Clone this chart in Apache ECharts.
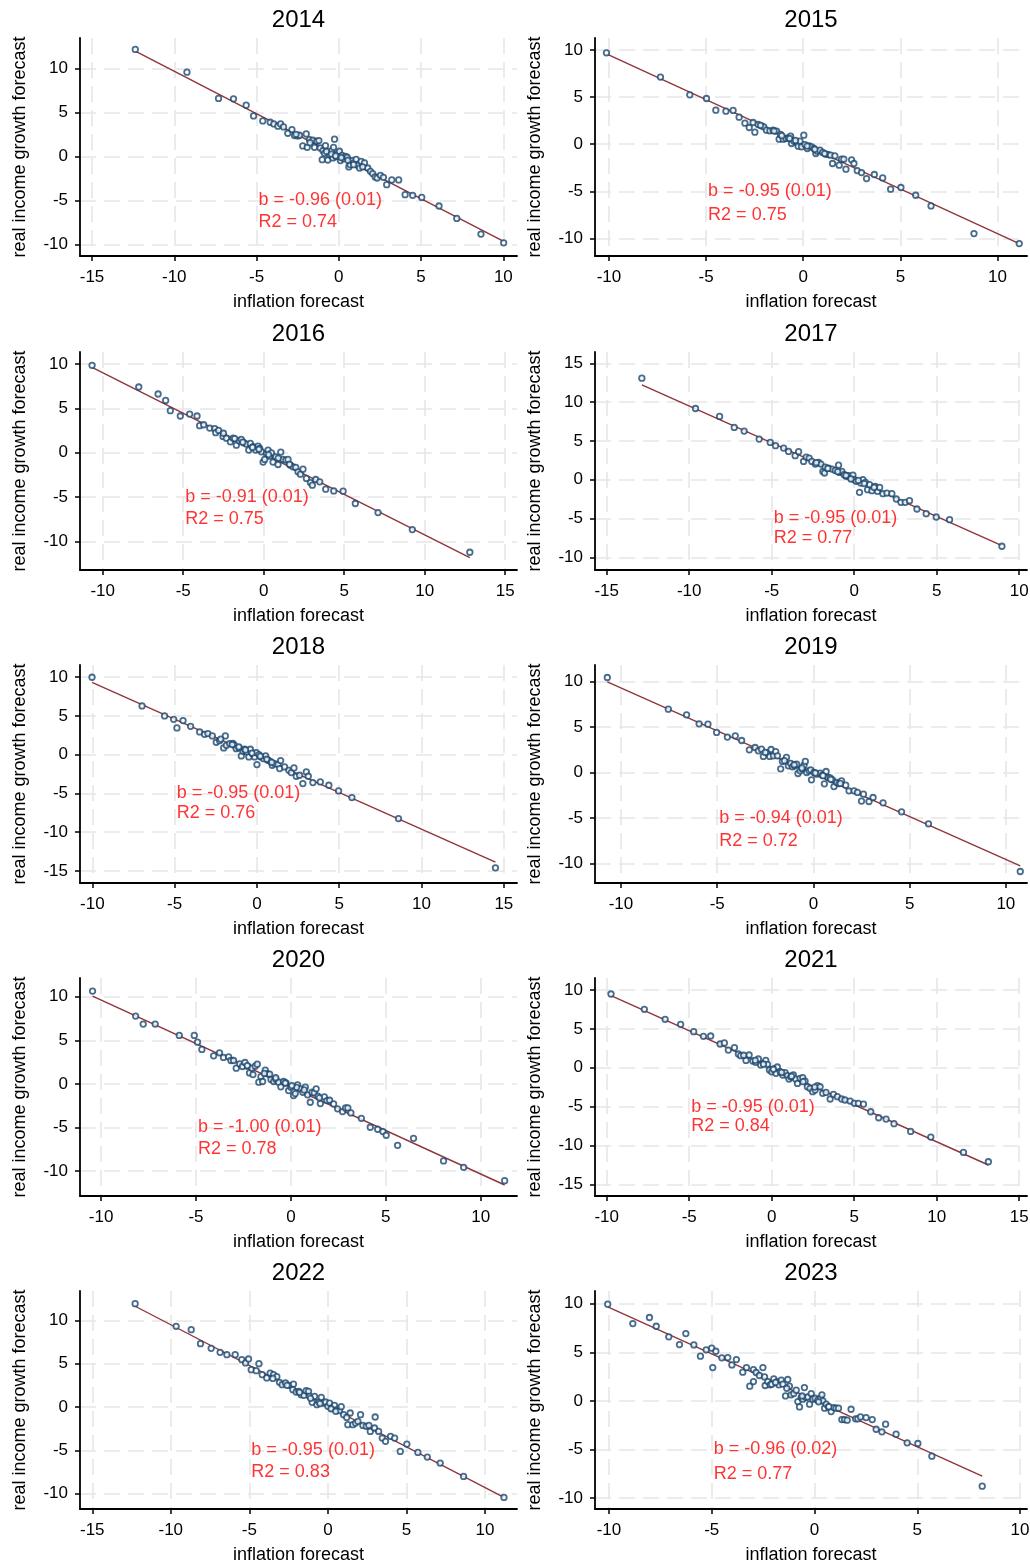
<!DOCTYPE html>
<html>
<head>
<meta charset="utf-8">
<script src="https://cdn.jsdelivr.net/npm/echarts@6/dist/echarts.min.js"></script>
<style>
  html, body { margin: 0; padding: 0; background: #fff; }
  #main { width: 1030px; height: 1566px; }
</style>
</head>
<body>
<div id="main"></div>
<script>
// years shown, one panel each
var years = [2014, 2015, 2016, 2017, 2018, 2019, 2020, 2021, 2022, 2023];

// [inflation forecast, real income growth forecast]
var p2014 = [[-12.37,12.14],[-9.23,9.56],[-7.31,6.57],[-6.40,6.53],[-5.63,5.81],[-5.18,4.59],[-4.62,4.02],[-4.17,3.87],[-3.95,3.68],[-3.70,3.42],[-3.54,3.68],[-3.36,3.34],[-3.10,2.62],[-2.85,3.04],[-2.69,2.35],[-2.49,2.31],[-2.39,2.39],[-2.19,1.18],[-1.98,2.54],[-1.92,1.02],[-1.78,1.90],[-1.58,1.82],[-1.48,1.02],[-1.34,1.71],[-1.21,1.78],[-1.13,0.95],[-0.97,0.65],[-0.87,0.34],[-0.81,1.21],[-1.01,-0.38],[-0.67,-0.42],[-0.57,0.19],[-0.43,0.65],[-0.32,1.02],[-0.26,1.94],[-0.36,-0.19],[-0.16,-0.04],[-0.06,0.34],[0.04,0.57],[0.10,-0.49],[0.20,0.11],[0.30,-0.27],[0.40,0.00],[0.51,-0.11],[0.61,-1.21],[0.69,-0.95],[0.81,-0.49],[0.91,-0.76],[1.05,-0.34],[1.15,-1.02],[1.26,-1.33],[1.36,-0.57],[1.56,-0.76],[1.76,-1.33],[1.92,-1.71],[2.06,-1.97],[2.21,-2.35],[2.33,-2.47],[2.53,-2.16],[2.71,-2.39],[2.91,-3.23],[3.22,-2.69],[3.64,-2.69],[4.03,-4.36],[4.49,-4.44],[5.04,-4.67],[6.09,-5.65],[7.17,-7.06],[8.64,-8.84],[10.02,-9.83],[-0.75,0.55],[-0.45,0.25],[0.15,-0.15],[0.55,-0.45],[-1.75,1.55],[-2.6,2.5],[0.9,-0.95],[1.45,-1.2],[-0.2,0.05]];
var p2015 = [[-10.13,9.70],[-7.35,7.12],[-5.84,5.24],[-4.98,4.85],[-4.50,3.61],[-3.98,3.50],[-3.61,3.58],[-3.30,2.87],[-3.00,2.23],[-2.78,1.77],[-2.58,2.30],[-2.49,1.27],[-2.32,2.09],[-2.15,1.95],[-2.03,1.84],[-1.89,1.49],[-1.72,1.42],[-1.55,1.49],[-1.37,1.38],[-1.24,0.53],[-1.17,1.03],[-1.03,0.53],[-0.89,0.60],[-0.77,0.67],[-0.65,0.85],[-0.60,0.07],[-0.48,0.32],[-0.34,0.18],[-0.26,-0.21],[-0.17,0.32],[-0.09,-0.28],[0.03,0.96],[0.09,-0.04],[0.21,-0.46],[0.31,-0.18],[0.43,-0.28],[0.55,-0.46],[0.65,-0.99],[0.72,-0.74],[0.86,-0.64],[1.00,-0.88],[1.17,-1.06],[1.29,-1.10],[1.41,-1.17],[1.51,-2.05],[1.63,-1.24],[1.85,-2.23],[1.97,-1.59],[2.09,-1.59],[2.20,-2.65],[2.49,-1.66],[2.61,-2.05],[2.78,-2.80],[3.00,-3.01],[3.26,-3.65],[3.66,-3.22],[4.09,-3.58],[4.50,-4.78],[5.03,-4.60],[5.79,-5.42],[6.58,-6.55],[8.79,-9.49],[11.12,-10.55],[-1.5,1.4],[-1.1,0.9],[-0.7,0.6],[0.2,-0.2],[0.6,-0.55],[1.1,-1.0],[-2.2,2.0],[-0.4,0.4]];
var p2016 = [[-10.66,9.85],[-7.76,7.41],[-6.56,6.62],[-6.09,5.90],[-5.80,4.74],[-5.18,4.14],[-4.60,4.36],[-4.14,4.14],[-3.98,3.05],[-3.73,3.16],[-3.35,2.78],[-3.04,2.71],[-2.98,2.26],[-2.80,2.52],[-2.53,1.84],[-2.32,1.65],[-2.07,1.24],[-1.90,1.65],[-1.70,0.86],[-1.53,1.35],[-1.39,1.50],[-1.24,1.13],[-1.08,0.98],[-0.93,0.30],[-0.83,1.05],[-0.66,0.68],[-0.50,0.30],[-0.35,0.75],[-0.25,0.49],[-0.14,0.11],[-0.04,-1.05],[0.06,-0.75],[0.17,-0.08],[0.27,0.30],[0.37,-0.38],[0.48,0.00],[0.58,-1.05],[0.75,-0.45],[0.89,-1.32],[1.06,0.08],[1.20,-0.75],[1.37,-0.83],[1.51,-0.75],[1.66,-1.39],[1.82,-1.58],[1.99,-1.65],[2.13,-2.14],[2.28,-2.41],[2.44,-1.84],[2.65,-2.89],[2.90,-3.35],[3.02,-3.65],[3.23,-3.01],[3.48,-3.27],[3.85,-4.10],[4.35,-4.29],[4.93,-4.32],[5.69,-5.71],[7.10,-6.73],[9.23,-8.65],[12.80,-11.20],[-1.8,1.6],[-1.3,1.2],[-0.7,0.6],[-0.3,0.4],[0.3,-0.2],[0.9,-0.6],[1.6,-1.3],[-2.5,2.2]];
var p2017 = [[-12.87,13.09],[-9.62,9.18],[-8.16,8.15],[-7.27,6.74],[-6.67,6.27],[-5.76,5.24],[-5.09,4.81],[-4.77,4.38],[-4.28,4.08],[-3.98,3.65],[-3.58,3.09],[-3.37,3.61],[-3.07,2.36],[-2.91,2.92],[-2.73,2.79],[-2.57,2.36],[-2.36,2.02],[-2.16,2.23],[-2.02,2.02],[-1.90,1.07],[-1.80,0.86],[-1.76,1.63],[-1.56,1.50],[-1.35,1.37],[-1.15,1.20],[-0.95,1.89],[-0.89,0.94],[-0.75,1.07],[-0.61,0.64],[-0.48,0.43],[-0.34,0.52],[-0.20,0.21],[-0.08,0.60],[0.00,0.00],[0.12,-0.21],[0.32,-1.63],[0.40,-0.43],[0.53,0.00],[0.67,-0.34],[0.81,-1.29],[0.93,-0.64],[1.07,-1.42],[1.27,-0.86],[1.41,-1.50],[1.54,-0.99],[1.74,-1.80],[1.98,-1.72],[2.28,-1.80],[2.55,-2.49],[2.83,-2.92],[3.09,-2.92],[3.35,-2.70],[3.80,-3.78],[4.36,-4.38],[4.97,-4.81],[5.78,-5.15],[8.95,-8.58],[-1.6,1.45],[-1.0,1.05],[-0.5,0.55],[-0.2,0.1],[0.25,-0.1],[0.6,-0.5],[1.2,-1.0],[-2.3,2.2]];
var p2018 = [[-10.02,9.97],[-6.98,6.27],[-5.61,4.98],[-5.06,4.55],[-4.86,3.44],[-4.49,4.38],[-4.03,3.65],[-3.48,2.92],[-3.18,2.62],[-2.98,2.71],[-2.71,2.41],[-2.47,1.59],[-2.27,1.80],[-2.02,0.86],[-1.92,2.41],[-1.86,1.20],[-1.66,1.42],[-1.46,1.46],[-1.36,1.20],[-1.26,0.77],[-1.09,0.86],[-0.95,-0.17],[-0.85,0.43],[-0.75,0.69],[-0.61,0.34],[-0.49,-0.30],[-0.40,0.69],[-0.28,0.13],[-0.14,-0.30],[-0.04,0.26],[0.00,-1.29],[0.12,0.00],[0.26,-0.30],[0.40,-0.52],[0.53,-0.17],[0.67,-0.73],[0.81,-0.86],[0.93,-1.37],[1.07,-1.16],[1.28,-1.29],[1.38,-1.80],[1.44,-0.77],[1.68,-1.59],[1.94,-2.02],[2.09,-2.32],[2.25,-1.72],[2.39,-2.79],[2.59,-2.66],[2.79,-3.74],[3.00,-2.23],[3.12,-2.79],[3.40,-3.61],[3.85,-3.52],[4.37,-3.95],[4.96,-4.68],[5.77,-5.54],[8.60,-8.25],[14.49,-14.60],[-1.5,1.3],[-1.1,1.0],[-0.7,0.6],[-0.3,0.2],[0.2,-0.2],[0.6,-0.6],[0.9,-1.0],[-2.2,2.0]];
var p2019 = [[-10.71,10.42],[-7.54,6.95],[-6.59,6.33],[-5.94,5.34],[-5.48,5.30],[-5.03,4.39],[-4.47,3.88],[-4.06,4.02],[-3.73,3.51],[-3.33,2.49],[-3.03,2.74],[-2.86,2.38],[-2.70,2.56],[-2.60,1.76],[-2.39,2.19],[-2.27,1.76],[-2.20,2.52],[-2.08,1.83],[-1.96,2.30],[-1.87,1.83],[-1.70,0.40],[-1.61,1.21],[-1.40,1.65],[-1.30,0.73],[-1.18,0.99],[-1.09,0.62],[-0.97,0.73],[-0.87,0.91],[-0.80,-0.11],[-0.69,0.18],[-0.57,0.37],[-0.49,0.80],[-0.42,1.21],[-0.35,0.00],[-0.23,0.18],[-0.14,0.29],[-0.10,-0.80],[0.03,0.00],[0.17,-0.18],[0.35,-0.07],[0.47,-0.29],[0.57,-1.24],[0.66,0.11],[0.76,-0.55],[0.87,-0.59],[0.99,-0.80],[1.07,-1.54],[1.21,-1.10],[1.33,-1.21],[1.46,-0.91],[1.68,-1.39],[1.85,-2.01],[2.11,-2.01],[2.29,-2.19],[2.50,-3.14],[2.60,-2.38],[2.89,-3.18],[3.10,-2.74],[3.62,-3.33],[4.58,-4.31],[5.98,-5.63],[10.75,-10.86],[-1.5,1.3],[-1.0,0.85],[-0.6,0.5],[0.1,-0.05],[0.5,-0.35],[0.9,-0.75],[-2.5,2.2],[1.4,-1.2]];
var p2020 = [[-10.45,10.65],[-8.18,7.78],[-7.78,6.86],[-7.15,6.86],[-5.88,5.56],[-5.09,5.56],[-4.92,4.79],[-4.69,3.95],[-4.07,3.22],[-3.76,3.56],[-3.55,3.03],[-3.28,3.10],[-3.16,2.68],[-3.02,2.68],[-2.88,1.80],[-2.70,2.30],[-2.55,1.99],[-2.42,2.45],[-2.28,2.03],[-2.18,1.26],[-2.05,1.80],[-2.00,1.07],[-1.88,2.03],[-1.77,2.26],[-1.69,0.19],[-1.58,0.84],[-1.49,0.27],[-1.35,1.57],[-1.23,1.15],[-1.12,1.11],[-1.05,0.50],[-0.91,0.27],[-0.79,0.50],[-0.65,0.19],[-0.53,-0.34],[-0.39,0.27],[-0.26,0.11],[-0.12,-0.77],[0.00,-0.38],[0.14,-1.34],[0.23,-1.11],[0.35,-0.11],[0.49,-0.57],[0.63,-0.96],[0.76,-0.38],[0.88,-1.26],[1.02,-2.11],[1.11,-0.96],[1.23,-1.03],[1.33,-0.57],[1.42,-1.42],[1.55,-2.26],[1.76,-1.49],[1.90,-1.92],[2.04,-1.88],[2.25,-2.30],[2.46,-2.87],[2.72,-3.18],[2.88,-2.76],[3.00,-2.76],[3.16,-3.33],[3.71,-3.95],[4.18,-4.98],[4.57,-5.21],[4.85,-5.48],[5.02,-5.90],[5.62,-7.05],[6.46,-6.25],[8.04,-8.85],[9.10,-9.58],[11.26,-11.11],[-1.4,1.2],[-0.8,0.7],[-0.3,0.1],[0.3,-0.4],[0.7,-0.7],[1.5,-1.6],[-2.3,2.1],[0.05,-0.2]];
var p2021 = [[-9.74,9.48],[-7.72,7.51],[-6.46,6.22],[-5.52,5.58],[-4.73,4.64],[-4.14,4.03],[-3.70,4.08],[-3.13,3.05],[-2.87,3.18],[-2.63,2.27],[-2.26,2.58],[-2.02,1.76],[-1.88,1.55],[-1.56,0.94],[-1.37,1.63],[-1.15,0.86],[-0.97,0.69],[-0.81,1.12],[-0.67,0.34],[-0.51,0.56],[-0.36,0.94],[-0.26,0.43],[-0.14,-0.30],[0.00,-0.52],[0.14,-0.17],[0.26,-0.73],[0.34,0.09],[0.51,-0.52],[0.67,-0.94],[0.81,-0.64],[0.95,-1.03],[1.05,-1.46],[1.17,-1.20],[1.31,-0.94],[1.45,-1.46],[1.56,-2.02],[1.72,-1.37],[1.88,-1.29],[2.02,-1.72],[2.16,-2.45],[2.32,-2.66],[2.48,-3.09],[2.63,-2.88],[2.77,-2.32],[2.93,-2.45],[3.09,-3.30],[3.29,-3.18],[3.54,-4.03],[3.74,-3.43],[3.98,-3.73],[4.24,-4.03],[4.44,-4.16],[4.75,-4.29],[5.01,-4.59],[5.25,-4.59],[5.56,-4.68],[6.00,-5.67],[6.48,-6.44],[6.93,-6.61],[7.41,-7.21],[8.42,-8.20],[9.64,-8.93],[11.62,-10.90],[13.13,-12.10],[-1.0,0.95],[-0.5,0.45],[0.1,-0.2],[0.6,-0.6],[1.2,-1.1],[1.9,-1.8],[-1.7,1.6],[2.6,-2.5]];
var p2022 = [[-12.27,11.92],[-9.66,9.31],[-8.70,8.92],[-8.11,7.31],[-7.43,6.77],[-6.86,6.31],[-6.43,6.04],[-5.90,6.04],[-5.48,5.46],[-5.24,5.08],[-5.05,5.54],[-4.88,4.31],[-4.56,4.19],[-4.39,5.00],[-4.18,3.73],[-3.89,3.35],[-3.67,3.92],[-3.46,3.73],[-3.25,3.50],[-3.08,2.85],[-2.91,2.58],[-2.70,2.77],[-2.48,2.50],[-2.19,2.65],[-2.23,2.00],[-2.02,1.73],[-1.85,1.81],[-1.70,1.42],[-1.53,1.35],[-1.38,1.88],[-1.23,1.81],[-1.17,1.23],[-1.00,0.54],[-0.85,1.23],[-0.70,0.27],[-0.57,0.58],[-0.42,1.12],[-0.28,0.46],[-0.15,0.58],[0.00,0.08],[0.11,0.46],[0.28,-0.12],[0.42,0.19],[0.59,-0.31],[0.74,-0.42],[0.85,0.04],[1.00,-0.88],[1.27,-2.04],[1.42,-0.69],[1.59,-2.04],[1.76,-1.85],[1.91,-1.65],[2.08,-0.88],[2.23,-2.12],[2.44,-2.23],[2.61,-2.12],[2.70,-2.81],[2.97,-2.42],[3.01,-1.15],[3.23,-2.81],[3.46,-3.58],[3.67,-3.96],[3.99,-3.38],[4.25,-3.58],[4.61,-5.12],[5.03,-4.27],[5.73,-5.23],[6.33,-5.77],[7.15,-6.46],[8.64,-8.00],[11.21,-10.42],[-1.8,1.7],[-1.1,1.0],[-0.5,0.4],[0.2,-0.2],[0.5,-0.5],[-2.6,2.5],[-3.5,3.3],[1.2,-1.2]];
var p2023 = [[-10.06,9.95],[-8.84,7.96],[-8.03,8.58],[-7.70,7.68],[-7.09,6.59],[-6.57,5.80],[-6.26,6.93],[-5.87,5.76],[-5.55,4.60],[-5.27,5.25],[-5.00,5.42],[-4.95,3.43],[-4.80,5.11],[-4.51,4.43],[-4.22,4.46],[-4.02,3.70],[-3.80,4.25],[-3.49,2.95],[-3.31,3.43],[-3.15,1.51],[-2.97,1.99],[-2.97,3.22],[-2.84,2.92],[-2.68,2.61],[-2.51,3.43],[-2.43,2.47],[-2.40,1.58],[-2.27,1.99],[-2.16,1.65],[-2.08,1.72],[-1.98,2.26],[-1.83,1.96],[-1.74,1.65],[-1.62,2.13],[-1.54,1.72],[-1.41,0.51],[-1.30,2.20],[-1.22,1.51],[-1.14,0.62],[-1.01,0.75],[-0.89,1.10],[-0.81,-0.07],[-0.73,-0.62],[-0.65,0.34],[-0.57,0.17],[-0.49,1.37],[-0.41,0.34],[-0.32,0.41],[-0.24,-0.34],[-0.16,0.75],[-0.08,0.17],[0.03,0.27],[0.16,0.07],[0.29,0.27],[0.36,0.62],[0.41,0.00],[0.49,-0.75],[0.57,-0.34],[0.68,-0.62],[0.81,-1.10],[0.94,-0.69],[1.05,-0.75],[1.17,-0.75],[1.33,-1.92],[1.46,-1.92],[1.59,-1.99],[1.78,-0.86],[2.00,-1.85],[2.11,-1.85],[2.24,-1.65],[2.51,-1.72],[2.81,-1.92],[3.00,-2.92],[3.28,-3.19],[3.46,-2.40],[3.97,-3.43],[4.51,-4.32],[5.03,-4.39],[5.71,-5.69],[8.16,-8.78],[-1.9,1.9],[-0.6,0.5],[0.2,-0.1],[-1.35,1.3],[0.7,-0.6]];
var points = [p2014, p2015, p2016, p2017, p2018, p2019, p2020, p2021, p2022, p2023];

// fitted line: slope and intercept per year
var slopes = [-0.966, -0.947, -0.913, -0.950, -0.945, -0.941, -0.999, -0.953, -0.939, -0.956];
var intercepts = [0.00, -0.02, -0.11, 0.00, -0.17, -0.13, -0.36, -0.01, 0.10, 0.05];
var bText = ['-0.96 (0.01)', '-0.95 (0.01)', '-0.91 (0.01)', '-0.95 (0.01)', '-0.95 (0.01)', '-0.94 (0.01)', '-1.00 (0.01)', '-0.95 (0.01)', '-0.95 (0.01)', '-0.96 (0.02)'];
var r2Text = ['0.74', '0.75', '0.75', '0.77', '0.76', '0.72', '0.78', '0.84', '0.83', '0.77'];
var textAt = [-5, -5, -7.5]; // x, y of "b =", y of "R2 ="

// tick labels
var xTicks = [[-15,-10,-5,0,5,10],[-10,-5,0,5,10],[-10,-5,0,5,10,15],[-15,-10,-5,0,5,10],[-10,-5,0,5,10,15],
              [-10,-5,0,5,10],[-10,-5,0,5,10],[-10,-5,0,5,10,15],[-15,-10,-5,0,5,10],[-10,-5,0,5,10]];
var yTicks = [[-10,-5,0,5,10],[-10,-5,0,5,10],[-10,-5,0,5,10],[-10,-5,0,5,10,15],[-15,-10,-5,0,5,10],
              [-10,-5,0,5,10],[-10,-5,0,5,10],[-15,-10,-5,0,5,10],[-10,-5,0,5,10],[-10,-5,0,5,10]];
var xRange = [[-15.73,10.83],[-10.72,11.52],[-11.41,15.73],[-15.71,10.47],[-10.75,15.8],
              [-11.35,11.1],[-11.11,11.91],[-10.71,15.47],[-15.78,12.04],[-10.68,10.34]];
var yRange = [[-11.33,13.44],[-11.87,11.27],[-13.2,11.35],[-11.64,16.46],[-16.55,11.55],
              [-12.12,11.79],[-12.87,12.15],[-16.51,11.54],[-11.76,13.38],[-11.13,11.31]];

// layout
var colLeft = [80, 595], colWidth = [437, 432];
var rowTop = [38, 352, 665, 978, 1291], panelH = 218;
var FONT = '"Liberation Sans", Arial, sans-serif';

var grids = [], xAxes = [], yAxes = [], series = [], titles = [];

years.forEach(function (yr, i) {
  var col = i % 2, row = Math.floor(i / 2);
  grids.push({ left: colLeft[col], top: rowTop[row], width: colWidth[col], height: panelH, outerBoundsMode: 'none' });

  titles.push({
    text: String(yr), left: colLeft[col] + colWidth[col] / 2, top: rowTop[row] - 30,
    textAlign: 'center', padding: 0,
    textStyle: { fontSize: 24, fontWeight: 'normal', color: '#000', fontFamily: FONT }
  });

  var grid = { color: '#e6e6e6', width: 1.6, type: [16, 8] };
  xAxes.push({
    gridIndex: i, type: 'value', min: xRange[i][0], max: xRange[i][1],
    name: 'inflation forecast', nameLocation: 'middle', nameGap: 37,
    nameTextStyle: { fontSize: 18, color: '#000', fontFamily: FONT },
    axisLine: { show: true, onZero: false, lineStyle: { color: '#000', width: 1.8 } },
    axisTick: { show: true, customValues: xTicks[i], length: 5, lineStyle: { color: '#000', width: 1.5 } },
    axisLabel: { customValues: xTicks[i], margin: 13, fontSize: 17, color: '#000', fontFamily: FONT },
    splitLine: { show: true, lineStyle: grid }
  });
  yAxes.push({
    gridIndex: i, type: 'value', min: yRange[i][0], max: yRange[i][1],
    name: 'real income growth forecast', nameLocation: 'middle', nameGap: 51,
    nameTextStyle: { fontSize: 18, color: '#000', fontFamily: FONT },
    axisLine: { show: true, onZero: false, lineStyle: { color: '#000', width: 1.8 } },
    axisTick: { show: true, customValues: yTicks[i], length: 5, lineStyle: { color: '#000', width: 1.5 } },
    axisLabel: { customValues: yTicks[i], margin: 12, fontSize: 17, color: '#000', fontFamily: FONT },
    splitLine: { show: true, lineStyle: grid }
  });

  var xs = points[i].map(function (p) { return p[0]; });
  var x0 = Math.min.apply(null, xs), x1 = Math.max.apply(null, xs);
  series.push({
    type: 'line', xAxisIndex: i, yAxisIndex: i, silent: true, symbol: 'none', z: 2,
    lineStyle: { color: '#90353b', width: 1.4 },
    data: [[x0, intercepts[i] + slopes[i] * x0], [x1, intercepts[i] + slopes[i] * x1]]
  });
  series.push({
    type: 'scatter', xAxisIndex: i, yAxisIndex: i, z: 3,
    symbol: 'circle', symbolSize: 5.5,
    itemStyle: { color: '#ffffff', borderColor: '#1a476f', borderWidth: 1.8 },
    data: points[i]
  });
  series.push({
    type: 'scatter', xAxisIndex: i, yAxisIndex: i, z: 4, silent: true, symbolSize: 0,
    label: {
      show: true, position: 'right', distance: 2,
      formatter: function (p) { return p.data[2]; },
      color: '#ff0000', fontSize: 18, fontFamily: FONT
    },
    data: [[textAt[0], textAt[1], 'b = ' + bText[i]], [textAt[0], textAt[2], 'R2 = ' + r2Text[i]]]
  });
});

var chart = echarts.init(document.getElementById('main'));
chart.setOption({
  animation: false,
  backgroundColor: '#fff',
  title: titles,
  grid: grids,
  xAxis: xAxes,
  yAxis: yAxes,
  series: series
});
</script>
</body>
</html>
